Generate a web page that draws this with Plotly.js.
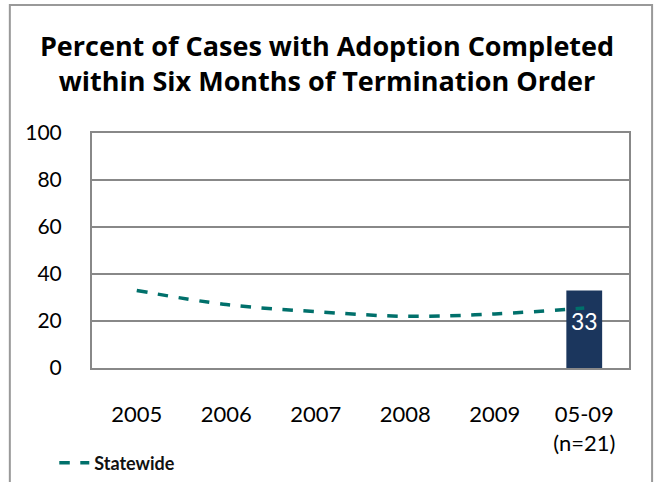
<!DOCTYPE html>
<html><head><meta charset="utf-8">
<script src="https://cdn.plot.ly/plotly-3.0.1.min.js"></script>
<style>html,body{margin:0;padding:0;background:#fff}#c{width:654px;height:482px}</style>
</head><body><div id="c"></div>
<script>
const categories = ['2005', '2006', '2007', '2008', '2009', '05-09'];
const tickLabels = ['2005', '2006', '2007', '2008', '2009', '05-09<br>(n=21)'];
const statewide = [33, 27, 24, 22, 23, 25.5];
const barCategories = ['05-09'];
const barValues = [33];
const yTicks = [0, 20, 40, 60, 80, 100];

const font = 'Lato, "Open Sans", sans-serif';

const traces = [
  {
    type: 'bar', x: barCategories, y: barValues, width: 0.4,
    marker: {color: '#1B365D'}, showlegend: false, hoverinfo: 'skip'
  },
  {
    type: 'scatter', mode: 'lines', x: categories, y: statewide, name: '<b>Statewide</b>',
    line: {color: '#00706B', width: 3.5, dash: 'dash', shape: 'spline', smoothing: 1}
  }
];

const layout = {
  width: 654, height: 482,
  margin: {l: 92, r: 25, t: 133, b: 114, autoexpand: false},
  paper_bgcolor: '#fff', plot_bgcolor: '#fff',
  font: {family: font, color: '#000'},
  title: {
    text: '<b>Percent of Cases with Adoption Completed<br>within Six Months of Termination Order</b>',
    font: {family: '"Open Sans", Lato, sans-serif', size: 27, color: '#000'},
    x: 0.5, xanchor: 'center', xref: 'container', yref: 'container',
    y: 0.883, yanchor: 'middle', automargin: false
  },
  xaxis: {
    type: 'category', categoryorder: 'array', categoryarray: categories,
    tickvals: categories, ticktext: tickLabels, range: [-0.5, 5.5],
    tickfont: {family: font, size: 22, color: '#000'},
    showgrid: false, showline: true, linecolor: '#888', linewidth: 2, mirror: true,
    ticks: 'outside', ticklen: 26, tickcolor: 'rgba(0,0,0,0)', zeroline: false,
    automargin: false, fixedrange: true
  },
  yaxis: {
    range: [0, 100], tickvals: yTicks,
    tickfont: {family: font, size: 21, color: '#000'},
    showgrid: true, gridcolor: '#888', gridwidth: 2,
    showline: true, linecolor: '#888', linewidth: 2, mirror: true,
    ticks: 'outside', ticklen: 24, tickcolor: 'rgba(0,0,0,0)', zeroline: false,
    automargin: false
  },
  legend: {
    xref: 'container', yref: 'container',
    x: 0.083, y: 1 - 463 / 482, xanchor: 'left', yanchor: 'middle',
    font: {family: font, size: 18, color: '#111'}, bgcolor: 'rgba(0,0,0,0)',
    itemwidth: 30
  },
  annotations: barCategories.map((c, i) => ({
    x: c, y: barValues[i], xref: 'x', yref: 'y', text: String(barValues[i]),
    showarrow: false, yanchor: 'top', yshift: -15,
    font: {family: font, size: 23, color: '#fff'}
  })),
  shapes: [{
    type: 'rect', xref: 'paper', yref: 'paper',
    x0: -0.153, x1: 1.043, y0: -0.6, y1: 1.545,
    line: {color: '#999', width: 2}, fillcolor: 'rgba(0,0,0,0)', layer: 'below'
  }]
};

Plotly.newPlot('c', traces, layout, {displayModeBar: false, staticPlot: true});
</script></body></html>
